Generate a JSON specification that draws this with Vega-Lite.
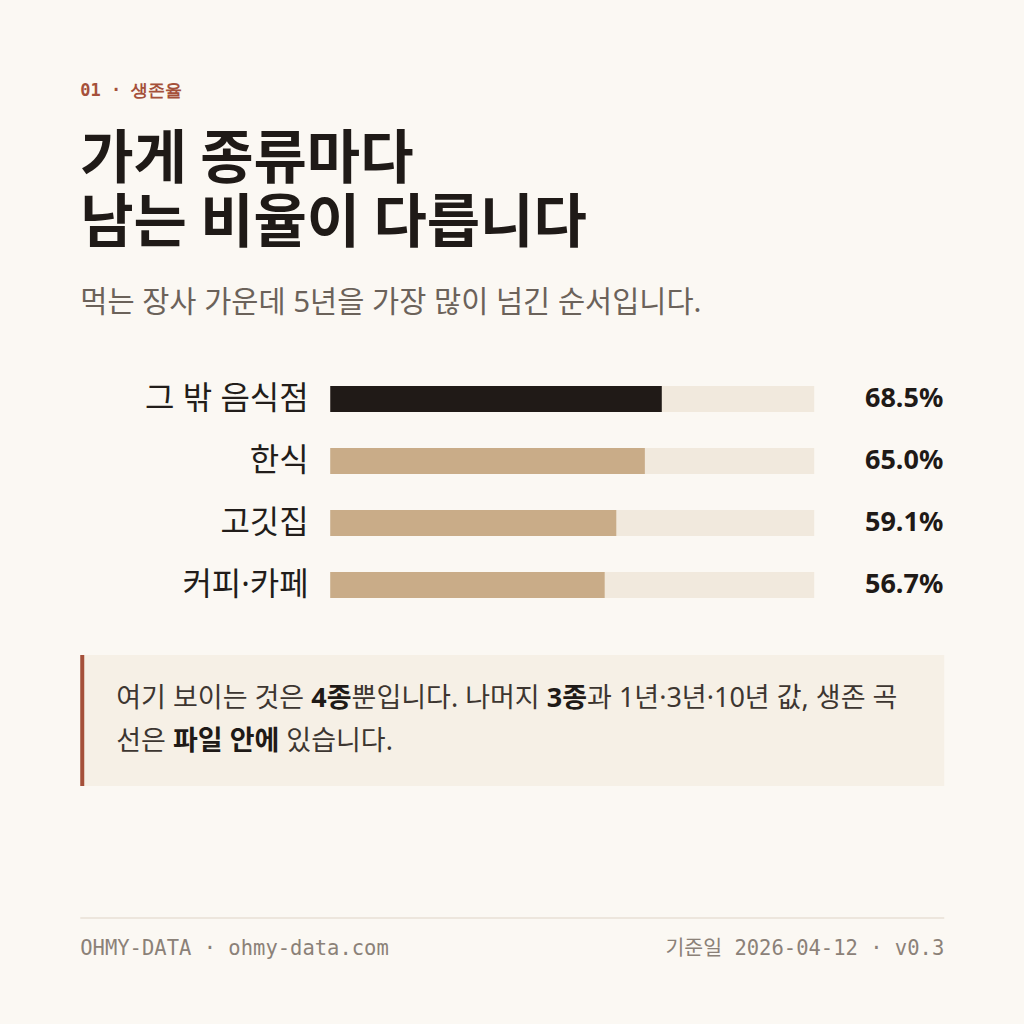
{
  "$schema": "https://vega.github.io/schema/vega-lite/v6.json",
  "background": "#fbf8f3",
  "padding": {"left": 79.25, "right": 80, "top": 82, "bottom": 45},
  "title": {
    "text": "01 · 생존율",
    "subtitle": ["가게 종류마다", "남는 비율이 다릅니다"],
    "anchor": "start",
    "frame": "group",
    "font": "DejaVu Sans Mono",
    "fontSize": 17,
    "fontWeight": "bold",
    "color": "#a5503a",
    "subtitleFont": "Noto Sans CJK KR",
    "subtitleFontSize": 58,
    "subtitleFontWeight": "bold",
    "subtitleColor": "#1f1a17",
    "subtitleLineHeight": 64,
    "subtitlePadding": 32,
    "offset": 22
  },
  "config": {
    "view": {"stroke": null},
    "font": "Noto Sans, Noto Sans CJK KR",
    "text": {"align": "left", "baseline": "middle", "font": "Noto Sans, Noto Sans CJK KR"}
  },
  "bounds": "flush",
  "spacing": 39,
  "vconcat": [
    {
      "width": 864,
      "height": 52,
      "data": {"values": [{"text": "먹는 장사 가운데 5년을 가장 많이 넘긴 순서입니다."}]},
      "mark": {"type": "text", "fontSize": 29.5, "color": "#6b625a"},
      "encoding": {
        "text": {"field": "text"},
        "x": {"datum": 0, "type": "quantitative", "scale": {"domain": [0, 1]}, "axis": null}
      }
    },
    {
      "width": 864,
      "height": 248,
      "data": {
        "values": [
          {"category": "그 밖 음식점", "rate": 0.685},
          {"category": "한식", "rate": 0.65},
          {"category": "고깃집", "rate": 0.591},
          {"category": "커피·카페", "rate": 0.567}
        ]
      },
      "encoding": {
        "y": {
          "field": "category",
          "type": "nominal",
          "sort": null,
          "title": null,
          "scale": {"paddingInner": 0, "paddingOuter": 0},
          "axis": {
            "offset": -250,
            "ticks": false,
            "domain": false,
            "grid": false,
            "labelPadding": 22,
            "labelFont": "Noto Sans, Noto Sans CJK KR",
            "labelFontSize": 32,
            "labelColor": "#221d1a"
          }
        }
      },
      "layer": [
        {
          "mark": {"type": "bar", "height": 26, "color": "#f1e9dd"},
          "encoding": {
            "x": {"datum": 0, "type": "quantitative", "scale": {"domain": [0, 1], "range": [250, 734]}, "axis": null},
            "x2": {"datum": 1}
          }
        },
        {
          "mark": {"type": "bar", "height": 26},
          "encoding": {
            "x": {"field": "rate", "type": "quantitative"},
            "color": {
              "condition": {"test": "datum.category === '그 밖 음식점'", "value": "#201a17"},
              "value": "#c9ac88"
            }
          }
        },
        {
          "mark": {
            "type": "text",
            "align": "right",
            "dx": 129,
            "fontSize": 27,
            "fontWeight": "bold",
            "color": "#1f1a17"
          },
          "encoding": {
            "x": {"datum": 1, "type": "quantitative"},
            "text": {"field": "rate", "type": "quantitative", "format": ".1%"}
          }
        }
      ]
    },
    {
      "width": 864,
      "height": 131,
      "view": {"fill": "#f6f0e6", "stroke": null},
      "data": {
        "values": [
          {"line": 1, "part": "s1", "text": "여기 보이는 것은"},
          {"line": 1, "part": "b1", "text": "4종"},
          {"line": 1, "part": "s2", "text": "뿐입니다. 나머지"},
          {"line": 1, "part": "b2", "text": "3종"},
          {"line": 1, "part": "s3", "text": "과 1년·3년·10년 값, 생존 곡"},
          {"line": 2, "part": "s4", "text": "선은"},
          {"line": 2, "part": "b3", "text": "파일 안에"},
          {"line": 2, "part": "s5", "text": "있습니다."}
        ]
      },
      "encoding": {
        "x": {"datum": 0, "type": "quantitative", "scale": {"domain": [0, 1]}, "axis": null},
        "y": {"field": "line", "type": "ordinal", "scale": {"type": "point", "padding": 1.02}, "axis": null},
        "text": {"field": "text"}
      },
      "layer": [
        {
          "data": {"values": [{}]},
          "mark": {"type": "rule", "color": "#a5503a", "strokeWidth": 4, "xOffset": 2},
          "encoding": {
            "x": {"datum": 0, "type": "quantitative"},
            "y": null,
            "text": null
          }
        },
        {
          "transform": [{"filter": "datum.part === 's1' || datum.part === 's4'"}],
          "mark": {"type": "text", "dx": 36, "fontSize": 27, "color": "#3d3631"}
        },
        {
          "transform": [{"filter": "datum.part === 'b1'"}],
          "mark": {"type": "text", "dx": 231, "fontSize": 27, "fontWeight": "bold", "color": "#1f1a17"}
        },
        {
          "transform": [{"filter": "datum.part === 's2'"}],
          "mark": {"type": "text", "dx": 271.3, "fontSize": 27, "color": "#3d3631"}
        },
        {
          "transform": [{"filter": "datum.part === 'b2'"}],
          "mark": {"type": "text", "dx": 466.5, "fontSize": 27, "fontWeight": "bold", "color": "#1f1a17"}
        },
        {
          "transform": [{"filter": "datum.part === 's3'"}],
          "mark": {"type": "text", "dx": 506.8, "fontSize": 27, "color": "#3d3631"}
        },
        {
          "transform": [{"filter": "datum.part === 'b3'"}],
          "mark": {"type": "text", "dx": 92.7, "fontSize": 27, "fontWeight": "bold", "color": "#1f1a17"}
        },
        {
          "transform": [{"filter": "datum.part === 's5'"}],
          "mark": {"type": "text", "dx": 206.1, "fontSize": 27, "color": "#3d3631"}
        }
      ]
    },
    {
      "width": 864,
      "height": 155,
      "data": {
        "values": [
          {"side": "left", "text": "OHMY-DATA · ohmy-data.com"},
          {"side": "right", "text": "기준일 2026-04-12 · v0.3"}
        ]
      },
      "layer": [
        {
          "data": {"values": [{}]},
          "mark": {"type": "rule", "color": "#e9e1d6", "strokeWidth": 1.5},
          "encoding": {
            "y": {"datum": 1, "type": "quantitative", "scale": {"domain": [0, 1], "range": [124, 93]}, "axis": null}
          }
        },
        {
          "transform": [{"filter": "datum.side === 'left'"}],
          "mark": {
            "type": "text",
            "font": "DejaVu Sans Mono, Noto Sans CJK KR",
            "fontSize": 20.5,
            "color": "#8b8178"
          },
          "encoding": {
            "x": {"datum": 0, "type": "quantitative", "scale": {"domain": [0, 1]}, "axis": null},
            "y": {"datum": 0, "type": "quantitative"},
            "text": {"field": "text"}
          }
        },
        {
          "transform": [{"filter": "datum.side === 'right'"}],
          "mark": {
            "type": "text",
            "align": "right",
            "font": "DejaVu Sans Mono, Noto Sans CJK KR",
            "fontSize": 20.5,
            "color": "#8b8178"
          },
          "encoding": {
            "x": {"datum": 1, "type": "quantitative"},
            "y": {"datum": 0, "type": "quantitative"},
            "text": {"field": "text"}
          }
        }
      ]
    }
  ]
}
